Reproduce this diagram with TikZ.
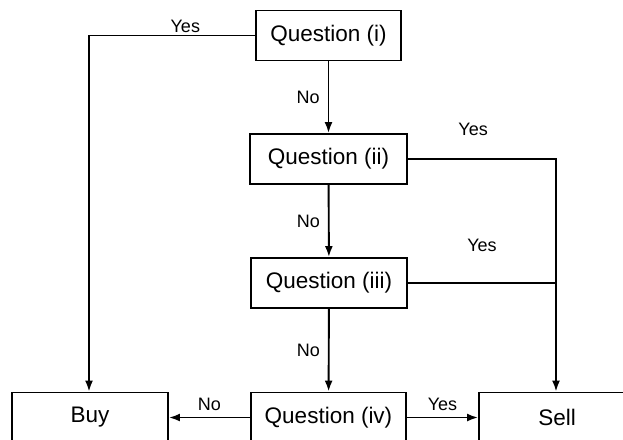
\documentclass[tikz,border=0pt]{standalone}
\usepackage{fontspec}
\setmainfont{Liberation Sans}
\usetikzlibrary{arrows.meta,positioning}

\begin{document}
\begin{tikzpicture}
[x=1pt,y=-1pt,line width=1.9pt,>={Latex[length=11pt,width=8pt]},
 qbox/.style={draw,minimum height=50pt,inner sep=0pt,font=\fontsize{22.5}{27}\selectfont},
 lab/.style={font=\fontsize{18}{21}\selectfont,inner sep=2pt}]
\useasboundingbox (0,0) rectangle (623,439);
\node[qbox,minimum width=145pt] (q1) at (328.5,35.5) {Question (i)};
\node[qbox,minimum width=157pt] (q2) at (328.5,159) {Question (ii)};
\node[qbox,minimum width=156pt] (q3) at (329,283) {Question (iii)};
\node[qbox,minimum width=155pt] (q4) at (328.5,417.5) {Question (iv)};
\node[qbox,minimum width=156pt] (buy) at (90,417.5) {Buy};
\node[qbox,minimum width=156pt] (sell) at (557,417.5) {Sell};
\coordinate (join) at (556,283);
\draw[->] (q1.west) -| node[lab,above,pos=0.21] {Yes} ([xshift=-1pt]buy.north);
\draw[->] (q1) to node[lab,left=6pt] {No} (q2);
\draw[->] (q2) to node[lab,left=6pt] {No} (q3);
\draw[->] (q3) to node[lab,left=6pt] {No} (q4);
\draw[->] (q2.east) -| node[lab,above=20pt,pos=0.22] {Yes} ([xshift=-1pt]sell.north);
\draw (q3.east) to node[lab,above=28pt] {Yes} (join);
\draw[->] (q4) to node[lab,above=4pt] {No} (buy);
\draw[->] (q4) to node[lab,above=4pt] {Yes} (sell);
\end{tikzpicture}
\end{document}
